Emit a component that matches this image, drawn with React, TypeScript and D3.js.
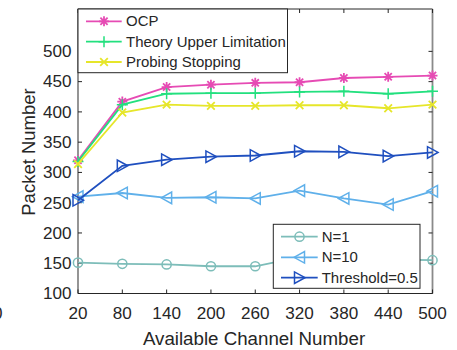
import React from "react";
import * as d3 from "d3";

const channels = [20, 80, 140, 200, 260, 320, 380, 440, 500];
const xTicks = [20, 80, 140, 200, 260, 320, 380, 440, 500];
const yTicks = [100, 150, 200, 250, 300, 350, 400, 450, 500];

const ocp = [320, 417, 441, 445, 448, 449, 456, 458, 460];
const theory = [318, 412, 430, 431, 431, 433, 434, 430, 434];
const probing = [314, 399, 412, 410, 410, 411, 411, 406, 412];
const n1 = [151, 149, 148, 145, 145, 160, 157, 156, 155];
const n10 = [260, 266, 258, 259, 257, 270, 257, 247, 269];
const threshold = [254, 311, 321, 326, 328, 335, 334, 327, 333];

const seriesNames = ["OCP", "Theory Upper Limitation", "Probing Stopping", "N=1", "N=10", "Threshold=0.5"];

type MarkerKind = "star" | "plus" | "x" | "circle" | "triL" | "triR";

const series = [
  { name: seriesNames[0], values: ocp, color: "#e64bb4", marker: "star" as MarkerKind },
  { name: seriesNames[1], values: theory, color: "#22e07e", marker: "plus" as MarkerKind },
  { name: seriesNames[2], values: probing, color: "#e6e62a", marker: "x" as MarkerKind },
  { name: seriesNames[3], values: n1, color: "#7dbdb9", marker: "circle" as MarkerKind },
  { name: seriesNames[4], values: n10, color: "#5fb0ea", marker: "triL" as MarkerKind },
  { name: seriesNames[5], values: threshold, color: "#1f4fbf", marker: "triR" as MarkerKind },
];

const FONT = "'Liberation Sans', Arial, Helvetica, sans-serif";
const SX = 1.07;

function Marker({ kind, x, y, color }: { kind: MarkerKind; x: number; y: number; color: string }) {
  const sw = 1.5;
  if (kind === "star") {
    const s = 5;
    const d = 3.6;
    return (
      <path
        d={`M${x - s},${y}L${x + s},${y}M${x},${y - s}L${x},${y + s}M${x - d},${y - d}L${x + d},${y + d}M${x - d},${y + d}L${x + d},${y - d}`}
        stroke={color}
        strokeWidth={sw + 0.3}
        fill="none"
      />
    );
  }
  if (kind === "plus") {
    const s = 5.5;
    return <path d={`M${x - s},${y}L${x + s},${y}M${x},${y - s}L${x},${y + s}`} stroke={color} strokeWidth={sw} fill="none" />;
  }
  if (kind === "x") {
    const s = 3.8;
    return <path d={`M${x - s},${y - s}L${x + s},${y + s}M${x - s},${y + s}L${x + s},${y - s}`} stroke={color} strokeWidth={sw + 0.3} fill="none" />;
  }
  if (kind === "circle") {
    return <circle cx={x} cy={y} r={4.6} stroke={color} strokeWidth={sw} fill="none" />;
  }
  if (kind === "triL") {
    return <path d={`M${x - 5.5},${y}L${x + 5},${y - 5.8}L${x + 5},${y + 5.8}Z`} stroke={color} strokeWidth={sw} fill="none" />;
  }
  return <path d={`M${x + 5.5},${y}L${x - 5},${y - 5.8}L${x - 5},${y + 5.8}Z`} stroke={color} strokeWidth={sw} fill="none" />;
}

function HText({ x, y, children, size, anchor = "start" }: { x: number; y: number; children: React.ReactNode; size: number; anchor?: string }) {
  return (
    <text
      transform={`translate(${x},${y}) scale(${SX},1)`}
      fontSize={size}
      fontFamily={FONT}
      fill="#262626"
      textAnchor={anchor as any}
    >
      {children}
    </text>
  );
}

export default function App() {
  const W = 457;
  const H = 350;
  const left = 78;
  const right = 432.5;
  const top = 9;
  const bottom = 293.5;

  const x = d3.scaleLinear().domain([20, 500]).range([left, right]);
  const y = d3.scaleLinear().domain([100, 570]).range([bottom, top]);

  const line = d3
    .line<number>()
    .x((_, i) => x(channels[i]))
    .y((v) => y(v));

  const leg1 = series.slice(0, 3);
  const leg2 = series.slice(3);
  const leg1Rows = [21.3, 41.7, 62];
  const leg2Rows = [236.7, 257.3, 277.7];

  return (
    <svg width={W} height={H} style={{ position: "absolute", left: 0, top: 0, background: "#fff" }}>
      <rect x={0} y={0} width={W} height={H} fill="#fff" />
      {/* stray partial label at the left edge */}
      <HText x={2.5} y={318.5} size={16} anchor="end">0</HText>

      {/* axes box */}
      <line x1={left} x2={right} y1={top} y2={top} stroke="#262626" strokeWidth={1} />
      <line x1={left} x2={right} y1={bottom} y2={bottom} stroke="#262626" strokeWidth={1.2} />
      <line x1={left} x2={left} y1={top} y2={bottom} stroke="#7a7a7a" strokeWidth={1.6} />
      <line x1={right} x2={right} y1={top} y2={bottom} stroke="#8a8a8a" strokeWidth={1.8} />

      {/* x ticks */}
      {xTicks.map((t) => (
        <g key={`xt${t}`}>
          <line x1={x(t)} x2={x(t)} y1={bottom} y2={bottom - 4} stroke="#262626" strokeWidth={1} />
          <line x1={x(t)} x2={x(t)} y1={top} y2={top + 4} stroke="#262626" strokeWidth={1} />
          <HText x={x(t)} y={318.5} size={16} anchor="middle">{t}</HText>
        </g>
      ))}
      {/* y ticks */}
      {yTicks.map((t) => (
        <g key={`yt${t}`}>
          <line x1={left} x2={left + 4} y1={y(t)} y2={y(t)} stroke="#262626" strokeWidth={1} />
          <line x1={right} x2={right - 4} y1={y(t)} y2={y(t)} stroke="#262626" strokeWidth={1} />
          <HText x={71.5} y={y(t) + 5.8} size={16} anchor="end">{t}</HText>
        </g>
      ))}

      {/* axis labels */}
      <HText x={254} y={345} size={17.5} anchor="middle">Available Channel Number</HText>
      <text
        transform={`translate(35,152) rotate(-90)`}
        fontSize={18.5}
        fontFamily={FONT}
        fill="#262626"
        textAnchor="middle"
      >
        Packet Number
      </text>

      {/* series */}
      {series.map((s) => (
        <g key={s.name}>
          <path d={line(s.values) || ""} stroke={s.color} strokeWidth={1.8} fill="none" />
          {s.values.map((v, i) => (
            <Marker key={i} kind={s.marker} x={x(channels[i])} y={y(v)} color={s.color} />
          ))}
        </g>
      ))}

      {/* legend 1 */}
      <rect x={78} y={9} width={209.5} height={63.7} fill="#fff" stroke="#262626" strokeWidth={1} />
      {leg1.map((s, i) => (
        <g key={`l1${s.name}`}>
          <line x1={86} x2={121.7} y1={leg1Rows[i]} y2={leg1Rows[i]} stroke={s.color} strokeWidth={1.8} />
          <Marker kind={s.marker} x={104} y={leg1Rows[i]} color={s.color} />
          <HText x={126} y={leg1Rows[i] + 5} size={14}>{s.name}</HText>
        </g>
      ))}

      {/* legend 2 */}
      <rect x={273.3} y={224.3} width={146.7} height={64} fill="#fff" stroke="#262626" strokeWidth={1} />
      {leg2.map((s, i) => (
        <g key={`l2${s.name}`}>
          <line x1={281} x2={317.7} y1={leg2Rows[i]} y2={leg2Rows[i]} stroke={s.color} strokeWidth={1.8} />
          <Marker kind={s.marker} x={299.5} y={leg2Rows[i]} color={s.color} />
          <HText x={321.7} y={leg2Rows[i] + 5} size={14}>{s.name}</HText>
        </g>
      ))}
    </svg>
  );
}
